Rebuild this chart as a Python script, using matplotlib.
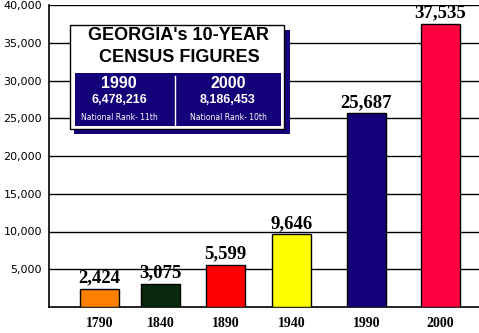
import matplotlib
matplotlib.use("Agg")
import matplotlib.pyplot as plt
from matplotlib.patches import Rectangle
from matplotlib.lines import Line2D

# census figures (hundreds of people shown as thousands on the axis)
years = ["1790", "1840", "1890", "1940", "1990", "2000"]
values = [2424, 3075, 5599, 9646, 25687, 37535]
bar_colors = ["#ff7f00", "#0a2a0e", "#ff0000", "#ffff00", "#140078", "#ff0040"]
yticks = [5000, 10000, 15000, 20000, 25000, 30000, 35000, 40000]

# inset figures
inset_title = ["GEORGIA's 10-YEAR", "CENSUS FIGURES"]
inset_years = ["1990", "2000"]
inset_pops = ["6,478,216", "8,186,453"]
inset_ranks = ["National Rank- 11th", "National Rank- 10th"]

W, H = 479, 333
bar_pos = [99.5, 160.5, 225.5, 291.5, 366.5, 440]  # pixel centres of the bars
NAVY = "#140078"


def fx(px):
    return px / W


def fy(py):
    return 1 - py / H


def main():
    fig = plt.figure(figsize=(W / 100, H / 100), dpi=100)
    ax = fig.add_axes([fx(49), fy(307), fx(W) - fx(49), fy(5) - fy(307)])

    # x data space is pixel columns so bar centres line up
    ax.set_xlim(49, W)
    ax.set_ylim(0, 40000)
    ax.bar(bar_pos, values, width=39, color=bar_colors, edgecolor="black",
           linewidth=1, zorder=3)

    for x, v in zip(bar_pos, values):
        ax.text(x, v + 300, f"{v:,}", ha="center", va="bottom",
                family="Liberation Serif", fontweight="bold", fontsize=13.5,
                zorder=4)

    for y in yticks:
        ax.axhline(y, color="black", linewidth=1.0, zorder=1)

    ax.set_yticks(yticks)
    ax.set_yticklabels([f"{t:,}" for t in yticks], fontsize=8, family="DejaVu Sans")
    ax.tick_params(axis="y", length=0, pad=5)
    ax.set_xticks(bar_pos)
    ax.set_xticklabels(years, family="Liberation Serif", fontweight="bold", fontsize=10)
    ax.tick_params(axis="x", length=0, pad=7)
    for s in ["top", "right"]:
        ax.spines[s].set_visible(False)
    ax.spines["left"].set_linewidth(1.2)
    ax.spines["bottom"].set_linewidth(1.2)

    # inset box with shadow
    def prect(x0, y0, x1, y1, **kw):
        r = Rectangle((fx(x0), fy(y1)), fx(x1) - fx(x0), fy(y0) - fy(y1),
                      transform=fig.transFigure, **kw)
        fig.add_artist(r)

    prect(74, 30, 290, 134, facecolor=NAVY, edgecolor="none", zorder=5)
    prect(70, 25, 284, 129, facecolor="white", edgecolor="black", linewidth=1, zorder=6)
    prect(75, 73, 281, 126, facecolor=NAVY, edgecolor="none", zorder=7)
    fig.add_artist(Line2D([fx(175), fx(175)], [fy(76), fy(125)], color="white",
                          linewidth=1, transform=fig.transFigure, zorder=8))

    for ty, line in zip([35, 58], inset_title):
        fig.text(fx(179), fy(ty), line, ha="center", va="center", fontsize=13,
                 fontweight="bold", family="Liberation Sans", zorder=9)

    for cx, yr, pop, rank in zip([119, 228], inset_years, inset_pops, inset_ranks):
        fig.text(fx(cx), fy(83), yr, ha="center", va="center", color="white",
                 fontsize=11.5, fontweight="bold", family="Liberation Sans", zorder=9)
        fig.text(fx(cx), fy(100), pop, ha="center", va="center", color="white",
                 fontsize=9, fontweight="bold", family="Liberation Sans", zorder=9)
        fig.text(fx(cx), fy(117), rank, ha="center", va="center", color="white",
                 fontsize=5.5, family="DejaVu Sans", zorder=9)

    fig.savefig("out.png", dpi=100)


if __name__ == "__main__":
    main()
